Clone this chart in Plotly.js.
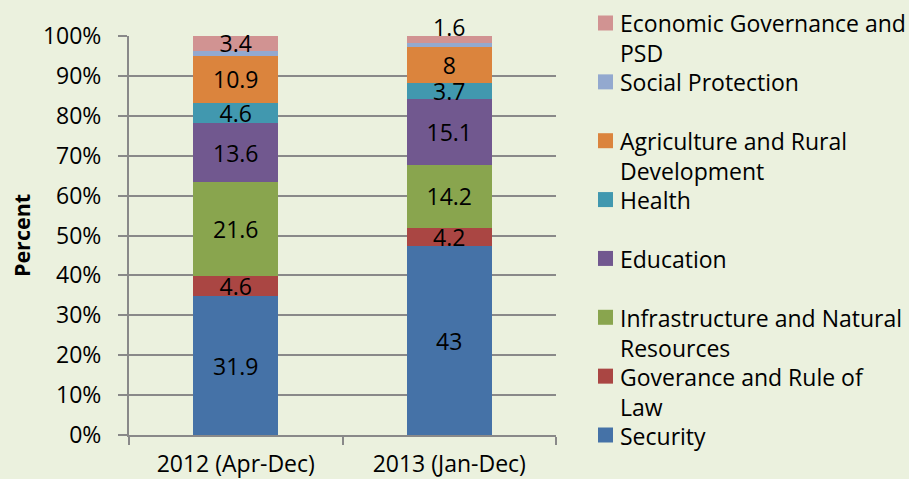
<!DOCTYPE html>
<html>
<head>
<meta charset="utf-8">
<script src="https://cdn.plot.ly/plotly-3.0.1.min.js"></script>
<style>
  html, body { margin: 0; padding: 0; background: #EBF1DE; }
  #chart { width: 909px; height: 479px; }
</style>
</head>
<body>
<div id="chart"></div>
<script>
// ---- data ----
const categories = ['2012 (Apr-Dec)', '2013 (Jan-Dec)'];
const security = [31.9, 43];
const governanceRuleOfLaw = [4.6, 4.2];
const infrastructure = [21.6, 14.2];
const education = [13.6, 15.1];
const health = [4.6, 3.7];
const agriculture = [10.9, 8];
const socialProtection = [1.1, 1.0];
const economicGovernance = [3.4, 1.6];

// series, bottom of the stack first
const seriesNames = [
  'Security',
  'Goverance and Rule of Law',
  'Infrastructure and Natural Resources',
  'Education',
  'Health',
  'Agriculture and Rural Development',
  'Social Protection',
  'Economic Governance and PSD'
];
// legend wording as wrapped in the reference
const legendLabels = [
  'Security',
  'Goverance and Rule of<br>Law',
  'Infrastructure and Natural<br>Resources',
  'Education',
  'Health',
  'Agriculture and Rural<br>Development',
  'Social Protection',
  'Economic Governance and<br>PSD'
];
const seriesValues = [security, governanceRuleOfLaw, infrastructure, education, health, agriculture, socialProtection, economicGovernance];
const showLabels = [true, true, true, true, true, true, false, true];
const seriesColors = ['#4572A7', '#AA4643', '#89A54E', '#71588F', '#4198AF', '#DB843D', '#93A9CF', '#D19392'];

const FONT = 'Open Sans, Lato, sans-serif';
const FS = 23;

// labels of segments too thin for inside text are drawn as annotations on top of the bar
const isThin = (vals, j) => {
  const total = seriesValues.reduce((s, arr) => s + arr[j], 0);
  return vals[j] / total * 100 < 2.5;
};

const traces = seriesValues.map((vals, i) => ({
  type: 'bar',
  name: seriesNames[i],
  x: categories,
  y: vals,
  text: vals.map((v, j) => (showLabels[i] && !isThin(vals, j)) ? String(v) : ''),
  textposition: 'inside',
  insidetextanchor: 'middle',
  textangle: 0,
  constraintext: 'none',
  cliponaxis: false,
  textfont: { family: FONT, size: FS, color: '#000000' },
  marker: { color: seriesColors[i], line: { width: 0 } },
  showlegend: false,
  hoverinfo: 'name+y'
}));

// ---- geometry of plot area (pixels) ----
const L = 129, R = 556, T = 36, B = 435;
const px = p => (p - L) / (R - L);
const py = p => (B - p) / (B - T);

const annotations = [];
const shapes = [];

// thin top-segment labels, anchored at the top of the stacked bar
seriesValues.forEach((vals, i) => {
  vals.forEach((v, j) => {
    if (showLabels[i] && isThin(vals, j)) {
      const total = seriesValues.reduce((s, arr) => s + arr[j], 0);
      const top = seriesValues.slice(0, i + 1).reduce((s, arr) => s + arr[j], 0) / total * 100;
      annotations.push({
        xref: 'x', yref: 'y', x: categories[j], y: top,
        text: String(v), showarrow: false,
        xanchor: 'center', yanchor: 'middle', yshift: 9,
        font: { family: FONT, size: FS, color: '#000000' }
      });
    }
  });
});

// ---- hand-made legend (top entry first) ----
const legendTop = 23, legendBottom = 435;
const n = seriesNames.length;
for (let k = 0; k < n; k++) {
  const i = n - 1 - k; // reversed order: top of stack first
  const cy = legendTop + k * (legendBottom - legendTop) / (n - 1);
  shapes.push({
    type: 'rect', xref: 'paper', yref: 'paper',
    x0: px(598), x1: px(613), y0: py(cy + 7.5), y1: py(cy - 7.5),
    fillcolor: seriesColors[i], line: { width: 0 }
  });
  annotations.push({
    xref: 'paper', yref: 'paper',
    x: px(618), y: py(cy - 17.5),
    xanchor: 'left', yanchor: 'top',
    align: 'left',
    showarrow: false,
    text: legendLabels[i],
    font: { family: FONT, size: FS, color: '#000000' }
  });
}

const gridColor = '#898989';

const layout = {
  width: 909,
  height: 479,
  paper_bgcolor: '#EBF1DE',
  plot_bgcolor: '#EBF1DE',
  font: { family: FONT, size: FS, color: '#000000' },
  margin: { l: L, r: 909 - R, t: T, b: 479 - B, pad: 0 },
  barmode: 'stack',
  barnorm: 'percent',
  bargap: 0.6,
  showlegend: false,
  shapes: shapes,
  annotations: annotations,
  xaxis: {
    type: 'category',
    showgrid: false,
    showline: true,
    linecolor: gridColor,
    linewidth: 2,
    ticks: 'outside',
    tickson: 'boundaries',
    ticklen: 8,
    tickwidth: 2,
    tickcolor: gridColor,
    ticklabelstandoff: 7,
    tickfont: { family: FONT, size: FS, color: '#000000' },
    fixedrange: true
  },
  yaxis: {
    range: [0, 100],
    dtick: 10,
    ticksuffix: '%',
    showgrid: true,
    gridcolor: gridColor,
    gridwidth: 2,
    zeroline: false,
    showline: true,
    linecolor: gridColor,
    linewidth: 2,
    ticks: 'outside',
    ticklen: 9,
    tickwidth: 2,
    tickcolor: gridColor,
    ticklabelstandoff: 12,
    tickfont: { family: FONT, size: FS, color: '#000000' },
    title: { text: '<b>Percent</b>', font: { family: FONT, size: 21.5, color: '#000000' }, standoff: 6 },
    fixedrange: true
  }
};

Plotly.newPlot('chart', traces, layout, { displayModeBar: false, staticPlot: true });
</script>
</body>
</html>
